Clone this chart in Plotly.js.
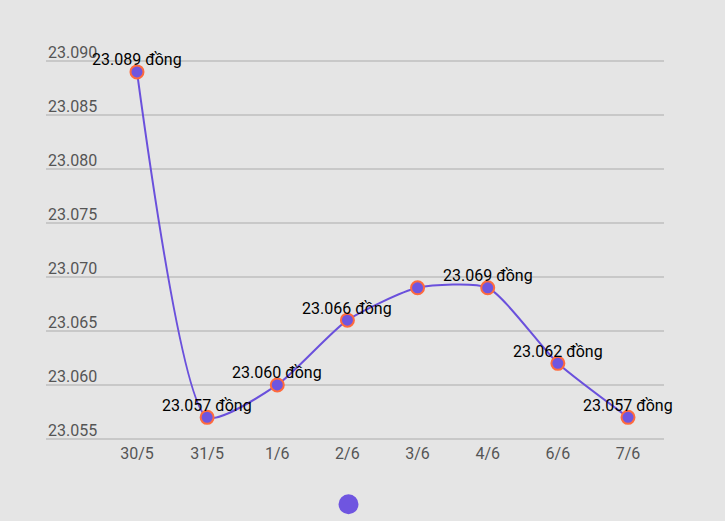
<!DOCTYPE html>
<html>
<head>
<meta charset="utf-8">
<script src="https://cdn.plot.ly/plotly-3.0.1.min.js"></script>
<style>html,body{margin:0;padding:0;background:#e5e5e5;}#chart{width:725px;height:521px;}</style>
</head>
<body>
<div id="chart"></div>
<script>
const dates = ["30/5", "31/5", "1/6", "2/6", "3/6", "4/6", "6/6", "7/6"];
const rates = [23089, 23057, 23060, 23066, 23069, 23069, 23062, 23057];
const labelShown = [true, true, true, true, false, true, true, true];
const unit = "đồng";

const lineColor = "#6a50dc";
const markerFill = "#6f55e0";
const markerLine = "#ff6a3d";

function fmt(v) {
  return String(v).replace(/\B(?=(\d{3})+(?!\d))/g, ".");
}

const traces = [
  {
    x: dates,
    y: rates,
    type: "scatter",
    mode: "lines+markers",
    line: { color: lineColor, width: 2, shape: "spline", smoothing: 0.6 },
    marker: { size: 13, color: markerFill, line: { color: markerLine, width: 2 } },
    cliponaxis: false,
    showlegend: false,
    hoverinfo: "skip"
  }
];

const annotations = dates.map((d, i) => labelShown[i] ? {
  x: d,
  y: rates[i],
  xref: "x",
  yref: "y",
  text: fmt(rates[i]) + " " + unit,
  showarrow: false,
  xanchor: "center",
  yanchor: "middle",
  yshift: 12,
  font: { family: "Roboto, sans-serif", size: 16, color: "#000" }
} : null).filter(a => a);

const layout = {
  width: 725,
  height: 521,
  paper_bgcolor: "#e5e5e5",
  plot_bgcolor: "#e5e5e5",
  separators: ",.",
  font: { family: "Roboto, sans-serif", size: 16, color: "#555" },
  margin: { l: 46, r: 61, t: 60, b: 81 },
  xaxis: {
    type: "category",
    range: [-1.297, 7.513],
    showgrid: false,
    zeroline: false,
    showline: false,
    ticks: "",
    ticklabelstandoff: 2,
    tickfont: { size: 16, color: "#555" },
    fixedrange: true
  },
  yaxis: {
    range: [23054.9, 23090.1],
    dtick: 5,
    tick0: 23055,
    tickformat: ",d",
    ticklabelposition: "inside top",
    ticklabeloverflow: "allow",
    ticklabelstandoff: -1,
    ticklabelshift: 3,
    gridcolor: "#c8c8c8",
    gridwidth: 1.5,
    zeroline: false,
    showline: false,
    ticks: "",
    tickfont: { size: 16, color: "#555" },
    fixedrange: true
  },
  showlegend: false,
  annotations: annotations,
  shapes: [
    {
      type: "circle",
      xref: "paper",
      yref: "paper",
      xsizemode: "pixel",
      ysizemode: "pixel",
      xanchor: 0.4895,
      yanchor: -0.169,
      x0: -10, x1: 10,
      y0: -10, y1: 10,
      fillcolor: markerFill,
      line: { width: 0 }
    }
  ]
};

Plotly.newPlot("chart", traces, layout, { displayModeBar: false, staticPlot: true });
</script>
</body>
</html>
